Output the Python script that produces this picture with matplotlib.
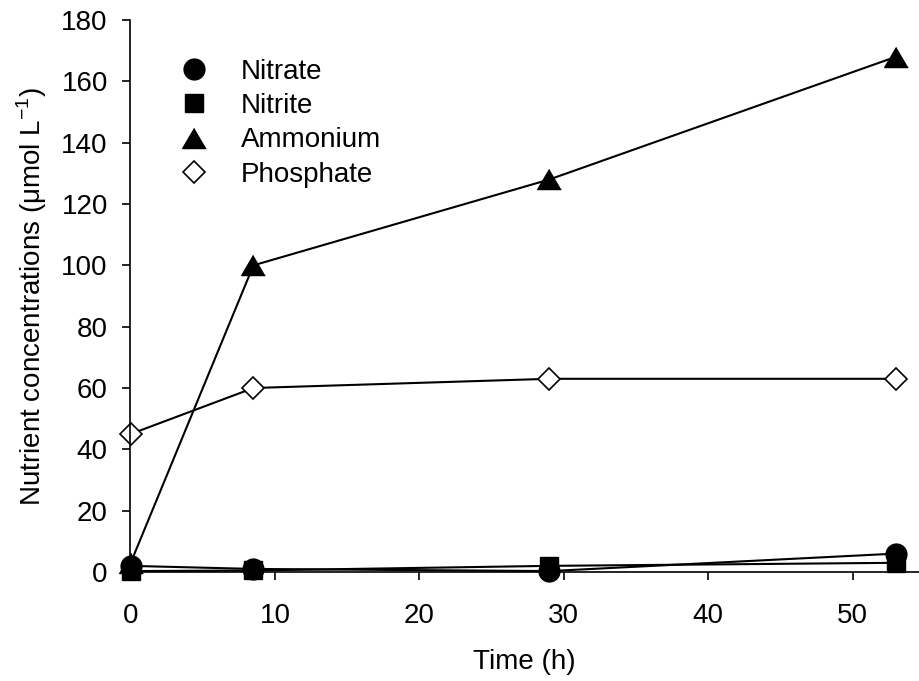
import matplotlib
matplotlib.use("Agg")
import matplotlib.pyplot as plt

plt.rcParams['font.family'] = ['Liberation Sans', 'DejaVu Sans']

time_h = [0, 8.5, 29, 53]
nitrate = [2, 1, 0.3, 6]
nitrite = [0.3, 0.5, 2, 3]
ammonium = [3, 100, 128, 168]
phosphate = [45, 60, 63, 63]

FS = 20
fig = plt.figure(figsize=(9.19, 6.81), dpi=100)
ax = fig.add_axes([130/919, 1-572/681, (919-130)/919, (572-20)/681])

tri = [(0, 0.85), (-1, -0.85), (1, -0.85)]
lw = 1.5
kw = dict(color='black', lw=lw, clip_on=False)
ax.plot(time_h, nitrate, marker='o', ms=15, mfc='black', mec='black', label='Nitrate', **kw)
ax.plot(time_h, nitrite, marker='s', ms=13.5, mfc='black', mec='black', label='Nitrite', **kw)
ax.plot(time_h, ammonium, marker=tri, ms=17, mfc='black', mec='black', label='Ammonium', **kw)
ax.plot(time_h, phosphate, marker='D', ms=11.5, mfc='white', mec='black', mew=1.2, label='Phosphate', **kw)

ax.set_xlim(-0.05, 54.6)
ax.set_ylim(0, 180)
ax.set_xticks([0, 10, 20, 30, 40, 50])
ax.set_yticks(range(0, 181, 20))
for s in ['top', 'right']:
    ax.spines[s].set_visible(False)
for s in ['left', 'bottom']:
    ax.spines[s].set_linewidth(1.2)
ax.tick_params(direction='out', length=6, width=1.2, labelsize=FS)
ax.tick_params(axis='y', pad=10)
ax.tick_params(axis='x', pad=16)

ax.set_xlabel('Time (h)', fontsize=FS, labelpad=15)
ax.set_ylabel('Nutrient concentrations (μmol L$^{\\mathregular{-1}}$)', fontsize=FS, labelpad=9)

leg = ax.legend(loc='upper left', bbox_to_anchor=(0.060, 0.93), frameon=False, fontsize=FS,
                handlelength=1.2, handletextpad=1.1, labelspacing=0.3, borderaxespad=0,
                borderpad=0)
for h in leg.legend_handles:
    h.set_linestyle('None')

fig.savefig('out.png', dpi=100)
